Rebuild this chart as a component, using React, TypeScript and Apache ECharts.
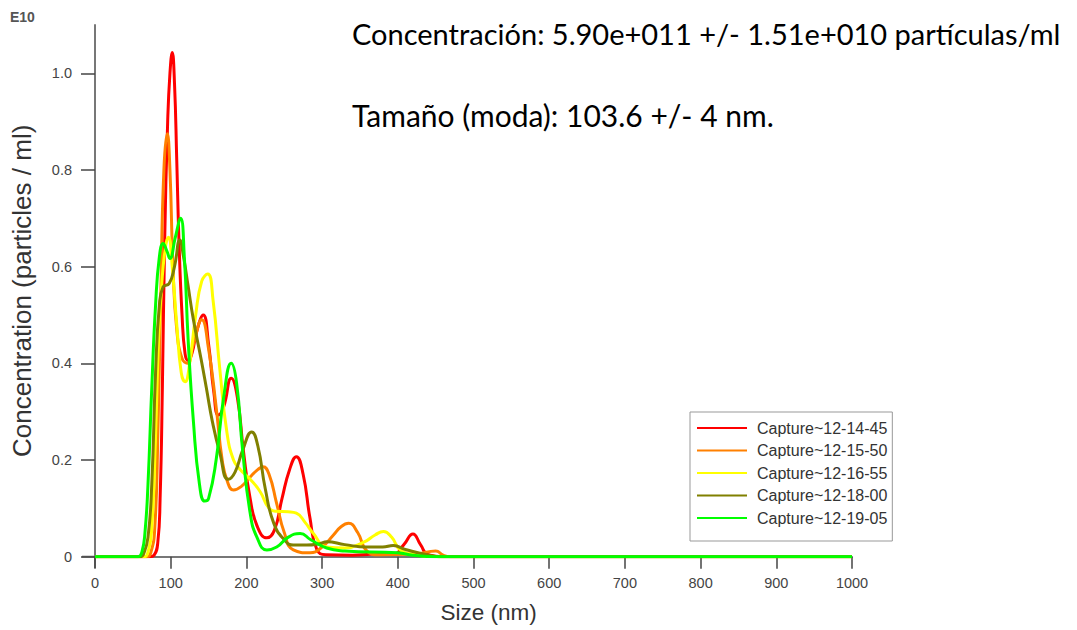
import React, { useEffect, useRef } from "react";
import * as echarts from "echarts";

const seriesNames = [
  "Capture~12-14-45",
  "Capture~12-15-50",
  "Capture~12-16-55",
  "Capture~12-18-00",
  "Capture~12-19-05",
];
const seriesColors = ["#ff0000", "#ff8000", "#ffff00", "#808000", "#00ff00"];

const redSize = [0, 72, 78, 83, 86, 89, 92, 96, 99, 102, 105, 108, 111, 115, 119, 123, 128, 135, 143, 150, 157, 163, 170, 180, 188, 196, 205, 215, 227, 237, 247, 257, 266, 275, 284, 293, 305, 340, 365, 395, 408, 420, 430, 440, 460, 1000];
const redConc = [0, 0, 0.003, 0.03, 0.12, 0.35, 0.65, 0.9, 1.0, 1.043, 0.98, 0.82, 0.65, 0.5, 0.42, 0.406, 0.42, 0.47, 0.5, 0.44, 0.34, 0.293, 0.31, 0.369, 0.33, 0.22, 0.12, 0.06, 0.039, 0.055, 0.12, 0.18, 0.207, 0.17, 0.08, 0.015, 0.004, 0.003, 0.005, 0.006, 0.025, 0.047, 0.025, 0.004, 0, 0];

const orangeSize = [0, 68, 74, 79, 83, 87, 91, 95.5, 99, 103, 108, 115, 122, 130, 141, 150, 160, 168, 175, 183, 193, 205, 215, 222, 230, 240, 250, 262, 284, 300, 315, 325, 335, 347, 359, 375, 420, 440, 450, 460, 470, 1000];
const orangeConc = [0, 0, 0.01, 0.06, 0.25, 0.55, 0.8, 0.875, 0.8, 0.6, 0.47, 0.41, 0.4, 0.44, 0.49, 0.43, 0.31, 0.2, 0.155, 0.138, 0.145, 0.165, 0.18, 0.186, 0.17, 0.11, 0.05, 0.014, 0.008, 0.02, 0.045, 0.062, 0.069, 0.05, 0.012, 0.004, 0.005, 0.01, 0.012, 0.003, 0, 0];

const yellowSize = [0, 65, 70, 75, 80, 84, 88, 93, 97, 102, 108, 114, 119, 125, 133, 141, 149, 156, 165, 174, 183, 192, 205, 218, 230, 240, 255, 266, 278, 288, 306, 330, 355, 370, 381, 392, 403, 420, 450, 1000];
const yellowConc = [0, 0, 0.01, 0.06, 0.25, 0.45, 0.56, 0.64, 0.661, 0.6, 0.48, 0.38, 0.362, 0.4, 0.5, 0.57, 0.585, 0.53, 0.386, 0.26, 0.2, 0.18, 0.16, 0.135, 0.1, 0.094, 0.093, 0.09, 0.07, 0.049, 0.02, 0.018, 0.03, 0.045, 0.052, 0.04, 0.014, 0.005, 0, 0];

const oliveSize = [0, 60, 64, 70, 75, 80, 85, 90, 98, 105, 112, 117, 123, 130, 140, 147, 155, 165, 176, 185, 195, 207, 215, 225, 236, 250, 262, 280, 297, 306, 330, 359, 380, 394, 410, 438, 460, 1000];
const oliveConc = [0, 0, 0.005, 0.04, 0.15, 0.38, 0.52, 0.558, 0.565, 0.6, 0.655, 0.62, 0.56, 0.49, 0.41, 0.35, 0.28, 0.214, 0.16, 0.175, 0.22, 0.258, 0.23, 0.14, 0.07, 0.035, 0.024, 0.024, 0.027, 0.031, 0.025, 0.02, 0.02, 0.023, 0.015, 0.004, 0, 0];

const greenSize = [0, 57, 62, 66, 70, 75, 80, 85, 90, 95, 99, 106, 113, 118, 123, 130, 138, 145, 150, 160, 170, 180, 187, 195, 205, 214, 227, 240, 255, 271, 285, 306, 330, 400, 420, 450, 1000];
const greenConc = [0, 0, 0.01, 0.05, 0.15, 0.35, 0.52, 0.62, 0.648, 0.632, 0.617, 0.66, 0.7, 0.62, 0.45, 0.28, 0.15, 0.115, 0.12, 0.2, 0.33, 0.4, 0.36, 0.22, 0.09, 0.04, 0.014, 0.02, 0.04, 0.048, 0.035, 0.018, 0.012, 0.008, 0.003, 0, 0];

const yTickValues = [0, 0.2, 0.4, 0.6, 0.8, 1.0];

const concText = "Concentración: 5.90e+011 +/- 1.51e+010 partículas/ml";
const sizeText = "Tamaño (moda): 103.6 +/- 4 nm.";

const allSizes = [redSize, orangeSize, yellowSize, oliveSize, greenSize];
const allConc = [redConc, orangeConc, yellowConc, oliveConc, greenConc];

export default function App() {
  const ref = useRef<HTMLDivElement>(null);
  useEffect(() => {
    if (!ref.current) return;
    const chart = echarts.init(ref.current, null, { renderer: "svg" });
    const series = seriesNames.map((name, i) => ({
      name,
      type: "line",
      data: allSizes[i].map((s, j) => [s, allConc[i][j]]),
      symbol: "none",
      smooth: 0.5,
      lineStyle: { color: seriesColors[i], width: 3 },
      itemStyle: { color: seriesColors[i] },
    }));
    chart.setOption({
      animation: false,
      backgroundColor: "#ffffff",
      grid: { left: 95, right: 225, top: 25, bottom: 73.3, containLabel: false },
      xAxis: {
        type: "value",
        min: 0,
        max: 1000,
        interval: 100,
        name: "Size (nm)",
        nameLocation: "middle",
        nameGap: 44,
        nameTextStyle: {
          fontFamily: "Liberation Sans",
          fontSize: 22.5,
          color: "#333",
          padding: [0, 0, 0, 30],
        },
        axisLine: { show: true, lineStyle: { color: "#777", width: 2 } },
        axisTick: { show: true, length: 12, lineStyle: { color: "#444", width: 1.5 } },
        axisLabel: {
          margin: 19,
          fontFamily: "Liberation Sans",
          fontSize: 14.5,
          color: "#444",
          formatter: (v: number) => String(v),
        },
        splitLine: { show: false },
      },
      yAxis: {
        type: "value",
        min: 0,
        max: 1.1,
        name: "Concentration (particles / ml)",
        nameLocation: "middle",
        nameGap: 60,
        nameRotate: 90,
        nameTextStyle: {
          fontFamily: "Liberation Sans",
          fontSize: 26,
          color: "#333",
        },
        axisLine: { show: true, lineStyle: { color: "#777", width: 2 } },
        axisTick: {
          show: true,
          length: 14,
          customValues: yTickValues,
          lineStyle: { color: "#444", width: 1.5 },
        },
        axisLabel: {
          customValues: yTickValues,
          margin: 23,
          fontFamily: "Liberation Sans",
          fontSize: 14.5,
          color: "#444",
          formatter: (v: number) => (v === 0 ? "0" : v.toFixed(1)),
        },
        splitLine: { show: false },
      },
      legend: {
        orient: "vertical",
        left: 690,
        top: 412,
        data: seriesNames,
        icon: "rect",
        itemWidth: 50,
        itemHeight: 2,
        itemGap: 6.5,
        padding: [8, 5, 15, 7],
        borderColor: "#999",
        borderWidth: 1,
        textStyle: {
          fontFamily: "Liberation Sans",
          fontSize: 16,
          color: "#333",
          padding: [0, 0, 0, 5],
        },
      },
      graphic: [
        {
          type: "line",
          shape: { x1: 95, y1: 556, x2: 95, y2: 568 },
          style: { stroke: "#777", lineWidth: 2 },
        },
        {
          type: "line",
          shape: { x1: 82, y1: 556.7, x2: 95, y2: 556.7 },
          style: { stroke: "#777", lineWidth: 2 },
        },
        {
          type: "text",
          x: 10,
          y: 17,
          style: {
            text: "E10",
            fontFamily: "Liberation Sans",
            fontSize: 14,
            fill: "#555",
            fontWeight: "bold",
            verticalAlign: "middle",
          },
        },
        {
          type: "text",
          x: 352,
          y: 33,
          style: { text: concText, fontFamily: "Lato", fontSize: 29, fill: "#000", verticalAlign: "middle" },
        },
        {
          type: "text",
          x: 352,
          y: 115,
          style: { text: sizeText, fontFamily: "Lato", fontSize: 30, fill: "#000", verticalAlign: "middle" },
        },
      ],
      series,
    });
    return () => chart.dispose();
  }, []);
  return (
    <div
      ref={ref}
      style={{ position: "fixed", left: 0, top: 0, width: 1077, height: 630 }}
    />
  );
}
